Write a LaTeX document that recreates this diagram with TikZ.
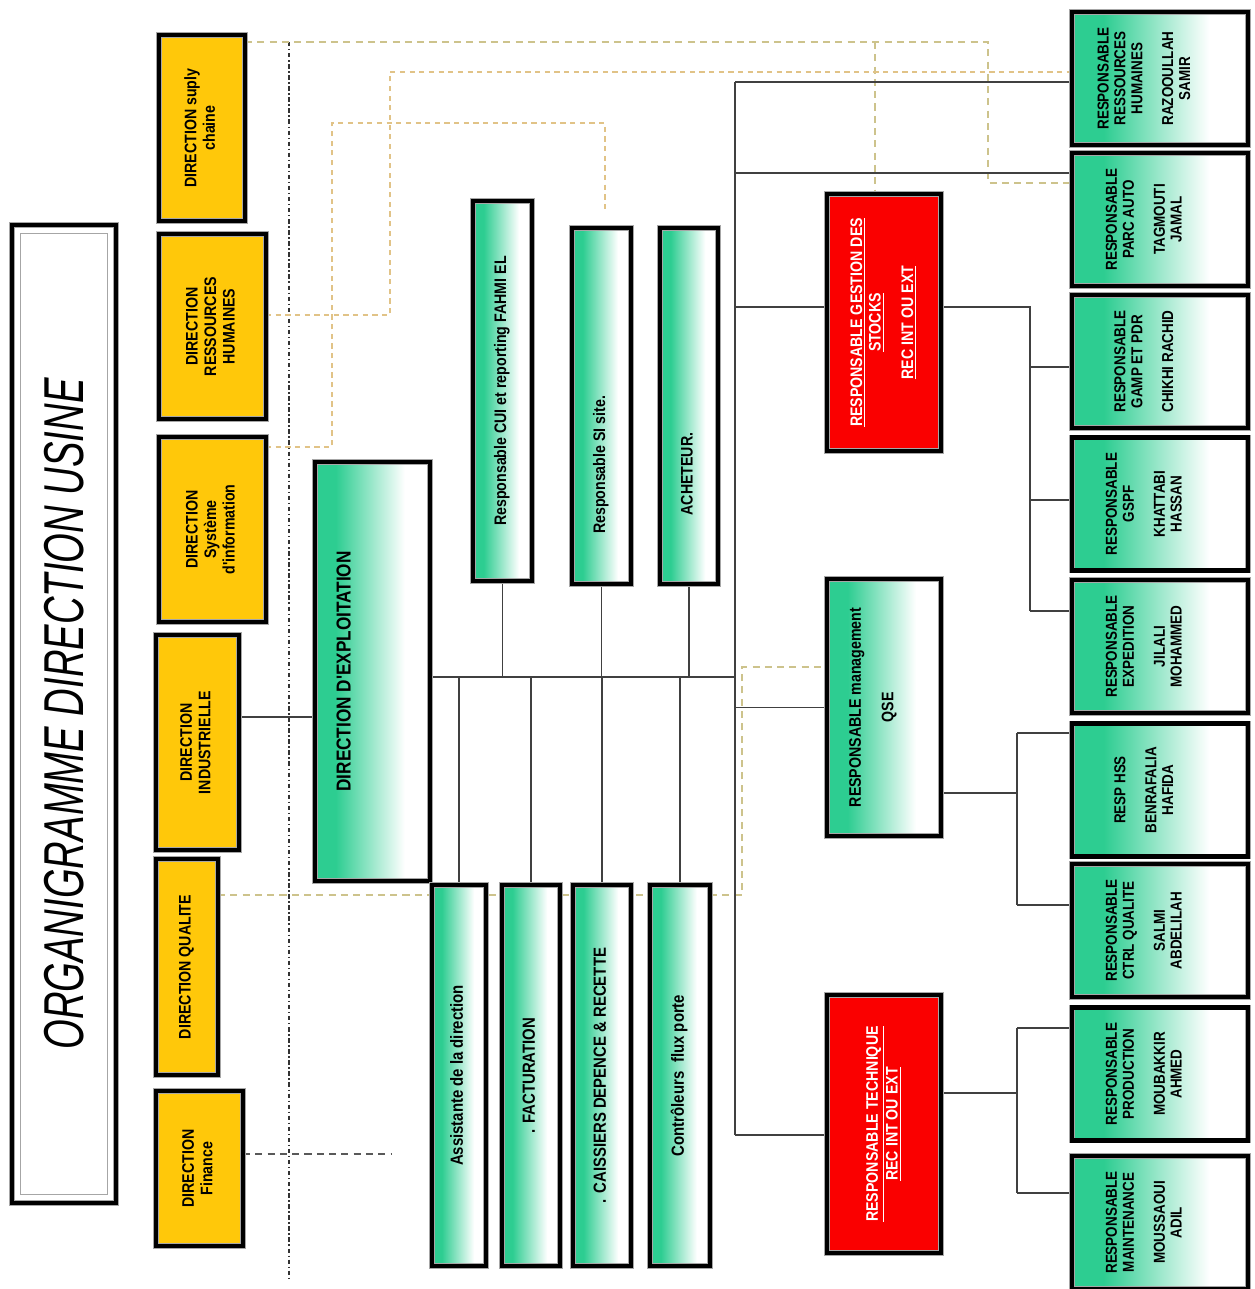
\documentclass[tikz,border=0pt]{standalone}
\usepackage{fontspec}
\usetikzlibrary{backgrounds}
\newfontfamily\cond[FakeStretch=0.85]{Liberation Sans}
\newfontfamily\ttlfont[FakeStretch=0.68]{Liberation Sans}
\definecolor{grn}{RGB}{45,205,145}
\definecolor{ylw}{RGB}{255,200,10}
\definecolor{rd}{RGB}{250,0,0}
\definecolor{khaki}{RGB}{205,195,140}
\definecolor{ochre}{RGB}{225,195,135}
\pgfdeclarehorizontalshading{gfade}{100bp}{color(0bp)=(grn); color(25bp)=(grn); color(34bp)=(grn); color(64bp)=(white); color(100bp)=(white)}
\newcommand{\vt}[1]{\rotatebox{90}{\begin{tabular}{@{}c@{}}#1\end{tabular}}}
\tikzset{
  frame/.style={draw=gray!70, line width=0.4pt, double=black, double distance=2.4pt, inner sep=0pt, outer sep=0pt},
  sz/.style 2 args={minimum width=#1*0.02cm, minimum height=#2*0.02cm},
  dirbox/.style={frame, fill=ylw, font=\cond\bfseries\fontsize{9.5}{10.5}\selectfont},
  gbox/.style={frame, shade, shading=gfade, font=\cond\bfseries\fontsize{10}{11}\selectfont},
  pbox/.style={frame, shade, shading=gfade, font=\cond\bfseries\fontsize{9}{9.6}\selectfont},
  rbox/.style={frame, fill=rd, text=white, font=\cond\bfseries\fontsize{9.5}{10.5}\selectfont},
  link/.style={draw=black!75, line width=0.6pt},
  dlink/.style={draw=khaki, line width=0.9pt, dash pattern=on 4pt off 3pt},
  olink/.style={draw=ochre, line width=0.9pt, dash pattern=on 3pt off 2.5pt},
  flink/.style={draw=black!65, line width=0.7pt, dash pattern=on 4pt off 3pt},
  axisline/.style={draw=black!80, line width=0.6pt, dash pattern=on 2.5pt off 1.5pt on 0.8pt off 1.5pt}
}

\begin{document}
\begin{tikzpicture}[x=0.02cm, y=-0.02cm, line width=0.6pt]
  \useasboundingbox (0,0) rectangle (1255,1289);
  % title
  \node[frame, fill=white, sz={104}{978}] (title) at (64,714)
    {\rotatebox{90}{\ttlfont\itshape\fontsize{32}{36}\selectfont ORGANIGRAMME DIRECTION USINE}};
  \draw[gray!70, line width=0.8pt] ([xshift=5pt,yshift=-5pt]title.north west) rectangle ([xshift=-5pt,yshift=5pt]title.south east);
  % directions
  \node[dirbox, sz={86}{186}] (supply) at (202,128) {\vt{DIRECTION suply\\chaine}};
  \node[dirbox, sz={107}{185}] (rhdir) at (212.5,326.5) {\vt{DIRECTION\\RESSOURCES\\HUMAINES}};
  \node[dirbox, sz={107}{185}] (sidir) at (212.5,529.5) {\vt{DIRECTION\\Système\\d'information}};
  \node[dirbox, sz={83}{215}] (indus) at (197.5,742.5) {\vt{DIRECTION\\INDUSTRIELLE}};
  \node[dirbox, sz={62}{216}] (qual) at (187,967) {\vt{DIRECTION QUALITE}};
  \node[dirbox, sz={87}{155}] (fin) at (199.5,1168.5) {\vt{DIRECTION\\Finance}};
  % exploitation
  \node[gbox, sz={115}{419}, font=\cond\bfseries\fontsize{11.5}{13}\selectfont] (expl) at (372.5,671.5) {\vt{DIRECTION D'EXPLOITATION\\[30pt]}};
  \node[gbox, sz={59}{380}, font=\cond\bfseries\fontsize{9.5}{10.5}\selectfont] (cui) at (502.5,391) {\vt{Responsable CUI et reporting FAHMI EL}};
  \node[gbox, sz={59}{356}, font=\cond\bfseries\fontsize{9.5}{10.5}\selectfont] (siresp) at (601.5,406) {\vt{Responsable SI site.\kern2.36cm}};
  \node[gbox, sz={58}{356}, font=\cond\bfseries\fontsize{9.5}{10.5}\selectfont] (ach) at (689,406) {\vt{ACHETEUR.\kern2.72cm}};
  \node[gbox, sz={54}{381}] (asst) at (459,1075.5) {\vt{Assistante de la direction}};
  \node[gbox, sz={58}{381}] (fact) at (531,1075.5) {\vt{. FACTURATION}};
  \node[gbox, sz={58}{381}] (caiss) at (602,1075.5) {\vt{. CAISSIERS DEPENCE \& RECETTE}};
  \node[gbox, sz={60}{381}] (ctrlf) at (680,1075.5) {\vt{Contrôleurs\enspace flux porte}};
  % responsables
  \node[rbox, sz={114}{257}] (stocks) at (884,322.5)
    {\vt{\underline{RESPONSABLE GESTION DES}\\\underline{STOCKS}\\[8pt]\underline{REC INT OU EXT}}};
  \node[gbox, sz={114}{257}, font=\cond\bfseries\fontsize{9.5}{10.5}\selectfont] (qse) at (884,707.5)
    {\vt{RESPONSABLE management\\[8pt]QSE\\[12pt]}};
  \node[rbox, sz={114}{258}] (tech) at (884,1124)
    {\vt{\underline{RESPONSABLE TECHNIQUE}\\\underline{REC INT OU EXT}}};
  % right column
  \node[pbox, sz={176}{133}] (rrh) at (1160,78.5) {\vt{RESPONSABLE\\RESSOURCES\\HUMAINES\\[8pt]RAZOOULLAH\\SAMIR\\[16pt]}};
  \node[pbox, sz={176}{133}] (parc) at (1160,219.5) {\vt{RESPONSABLE\\PARC AUTO\\[8pt]TAGMOUTI\\JAMAL\\[16pt]}};
  \node[pbox, sz={176}{133}] (gamp) at (1160,361.5) {\vt{RESPONSABLE\\GAMP ET PDR\\[8pt]CHIKHI RACHID\\[16pt]}};
  \node[pbox, sz={176}{133}] (gspf) at (1160,504) {\vt{RESPONSABLE\\GSPF\\[8pt]KHATTABI\\HASSAN\\[16pt]}};
  \node[pbox, sz={176}{133}] (exped) at (1160,646.5) {\vt{RESPONSABLE\\EXPEDITION\\[8pt]JILALI\\MOHAMMED\\[16pt]}};
  \node[pbox, sz={176}{133}] (hss) at (1160,790) {\vt{RESP HSS\\[8pt]BENRAFALIA\\HAFIDA\\[16pt]}};
  \node[pbox, sz={176}{133}] (ctrl) at (1160,930.5) {\vt{RESPONSABLE\\CTRL QUALITE\\[8pt]SALMI\\ABDELILAH\\[16pt]}};
  \node[pbox, sz={176}{133}] (prod) at (1160,1074) {\vt{RESPONSABLE\\PRODUCTION\\[8pt]MOUBAKKIR\\AHMED\\[16pt]}};
  \node[pbox, sz={176}{133}] (maint) at (1160,1222.5) {\vt{RESPONSABLE\\MAINTENANCE\\[8pt]MOUSSAOUI\\ADIL\\[16pt]}};
  \begin{scope}[on background layer]
    \fill[white] (0,0) rectangle (1255,1289);
    % dashed links
    \coordinate (axT) at (289,42);
    \coordinate (axB) at (289,1280);
    \coordinate (finEnd) at (392,1154);
    \draw[axisline] (axT) -- (axB);
    \draw[dlink] (supply.east |- 0,42) -- (988,42) -- (988,183) -- (parc.west |- 0,183);
    \draw[dlink] (875,42) -- (875,190);
    \draw[olink] (rhdir.east |- 0,315) -- (390,315) -- (390,72) -- (rrh.west |- 0,72);
    \draw[olink] (sidir.east |- 0,447) -- (332,447) -- (332,123) -- (605,123) -- (605,210);
    \draw[dlink] (qual.east |- 0,895) -- (742,895) -- (742,667) -- (qse.west |- 0,667);
    \draw[flink] (fin.east |- 0,1154) -- (finEnd);
    % solid links
    \draw[link] (indus.east |- 0,717) -- (expl.west |- 0,717);
    \coordinate (busL) at (expl.east |- 0,677);
    \coordinate (busR) at (735,677);
    \draw[link] (busL) -- (busR);
    \foreach \n in {cui, siresp, ach} \draw[link] (\n.south) -- (\n.south |- busL);
    \foreach \n in {asst, fact, caiss, ctrlf} \draw[link] (\n.north) -- (\n.north |- busL);
    \coordinate (spT) at (735,82);
    \coordinate (spB) at (735,1135);
    \draw[link] (spT) -- (spB);
    \draw[link] (spT) -- (rrh.west |- spT);
    \draw[link] (spT |- 0,173) -- (parc.west |- 0,173);
    \draw[link] (spT |- 0,307) -- (stocks.west |- 0,307);
    \draw[link] (spT |- qse.west) -- (qse.west);
    \draw[link] (spB) -- (tech.west |- spB);
    \draw[link] (stocks.east |- 0,307) -| (1030,611);
    \foreach \n/\yy in {gamp/367, gspf/500, exped/611} \draw[link] (1030,\yy) -- (\n.west |- 0,\yy);
    \draw[link] (qse.east |- 0,793) -- (1017,793);
    \draw[link] (1017,733) -- (1017,905);
    \foreach \n/\yy in {hss/733, ctrl/905} \draw[link] (1017,\yy) -- (\n.west |- 0,\yy);
    \draw[link] (tech.east |- 0,1093) -- (1017,1093);
    \draw[link] (1017,1028) -- (1017,1193);
    \foreach \n/\yy in {prod/1028, maint/1193} \draw[link] (1017,\yy) -- (\n.west |- 0,\yy);
  \end{scope}
\end{tikzpicture}
\end{document}
